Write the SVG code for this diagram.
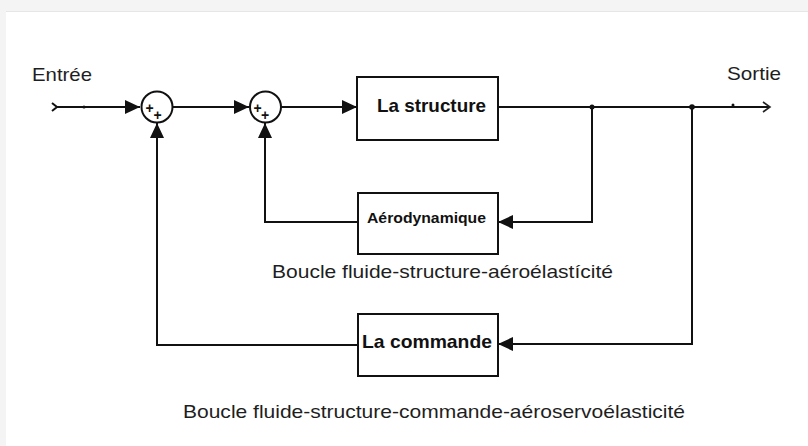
<svg xmlns="http://www.w3.org/2000/svg" width="808" height="446" viewBox="0 0 808 446">
<defs>
<marker id="tri" markerUnits="userSpaceOnUse" markerWidth="16" markerHeight="16" refX="15" refY="7" orient="auto">
<path d="M0,0 L15,7 L0,14 Z" fill="#111"/>
</marker>
<marker id="open" markerUnits="userSpaceOnUse" markerWidth="12" markerHeight="14" refX="9" refY="6" orient="auto">
<path d="M2,1 L9,6 L2,11" fill="none" stroke="#222" stroke-width="1.6"/>
</marker>
<style>
.ln{fill:none;stroke:#111;stroke-width:2}
.box{fill:#fff;stroke:#111;stroke-width:2}
.sum{fill:#fff;stroke:#111;stroke-width:2}
.lbl{font-family:"Liberation Sans",Arial,sans-serif;fill:#1e1e1e}
.bl{font-family:"Liberation Sans",Arial,sans-serif;font-weight:bold;fill:#111}
.pl{font-family:"Liberation Sans",Arial,sans-serif;font-weight:bold;font-size:14px;fill:#111}
</style>
</defs>
<rect x="0" y="0" width="808" height="446" fill="#f4f4f4"/>
<rect x="6" y="12" width="802" height="434" fill="#fff"/>
<line x1="6" y1="11.5" x2="808" y2="11.5" stroke="#e6e6e6" stroke-width="1"/>

<g id="connectors">
<path class="ln" d="M52,103 L57,107 L52,111"/>
<path class="ln" d="M57,107 L140,107" marker-end="url(#tri)"/>
<path class="ln" d="M172,107 L249,107" marker-end="url(#tri)"/>
<path class="ln" d="M281,107 L357,107" marker-end="url(#tri)"/>
<path class="ln" d="M498,107 L770,107" marker-end="url(#open)"/>
<path class="ln" d="M592,107 L592,222 L498,222" marker-end="url(#tri)"/>
<path class="ln" d="M358,222 L265,222 L265,123" marker-end="url(#tri)"/>
<path class="ln" d="M692,107 L692,344 L498,344" marker-end="url(#tri)"/>
<path class="ln" d="M358,345 L157,345 L157,123" marker-end="url(#tri)"/>
<circle cx="592" cy="107" r="2.5" fill="#111"/>
<circle cx="692" cy="107" r="2.8" fill="#111"/>
<circle cx="733" cy="105" r="1.5" fill="#111"/>
<circle cx="84" cy="107" r="1.6" fill="#111"/>
</g>

<g id="input">
<text class="lbl" x="32" y="81" font-size="19" textLength="60" lengthAdjust="spacingAndGlyphs">Entrée</text>
</g>
<g id="output">
<text class="lbl" x="727" y="80" font-size="19" textLength="54" lengthAdjust="spacingAndGlyphs">Sortie</text>
</g>

<g id="sum1">
<circle class="sum" cx="157" cy="107" r="15.5"/>
<text class="pl" x="149.5" y="113" text-anchor="middle">+</text>
<text class="pl" x="157.5" y="120" text-anchor="middle">+</text>
</g>
<g id="sum2">
<circle class="sum" cx="265.5" cy="107" r="15.5"/>
<text class="pl" x="257.5" y="113" text-anchor="middle">+</text>
<text class="pl" x="265" y="120" text-anchor="middle">+</text>
</g>

<g id="structure">
<rect class="box" x="357" y="77" width="141" height="63"/>
<text class="bl" x="377" y="112" font-size="19" textLength="109" lengthAdjust="spacingAndGlyphs">La structure</text>
</g>
<g id="aerodynamique">
<rect class="box" x="358" y="193" width="140" height="61"/>
<text class="bl" x="367" y="223" font-size="15" textLength="119" lengthAdjust="spacingAndGlyphs">Aérodynamique</text>
</g>
<g id="commande">
<rect class="box" x="358" y="314" width="140" height="62"/>
<text class="bl" x="362" y="348" font-size="19" textLength="130" lengthAdjust="spacingAndGlyphs">La commande</text>
</g>

<g id="labels">
<text class="lbl" x="272" y="278" font-size="18.5" textLength="341" lengthAdjust="spacingAndGlyphs">Boucle fluide-structure-aéroélastícité</text>
<text class="lbl" x="183" y="418" font-size="18.5" textLength="502" lengthAdjust="spacingAndGlyphs">Boucle fluide-structure-commande-aéroservoélasticité</text>
</g>
</svg>
